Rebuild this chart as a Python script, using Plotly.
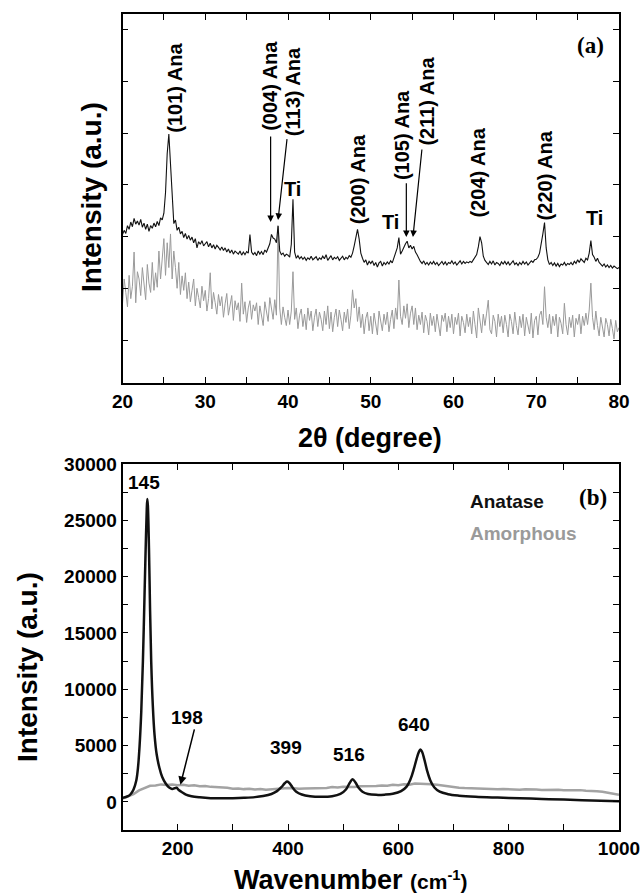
import numpy as np
import plotly.graph_objects as go

# ---------------- (a) XRD data ----------------
two_theta = np.round(np.arange(20.0, 80.0001, 0.2), 1)

xrd_anatase = [
    204, 212, 206, 221, 214, 228, 219, 235, 224, 230,
    222, 233, 218, 226, 214, 224, 210, 221, 216, 226,
    219, 229, 221, 236, 232, 245, 285, 360, 398, 335,
    262, 225, 232, 212, 218, 205, 210, 198, 206, 195,
    202, 193, 199, 188, 196, 178, 190, 185, 192, 182,
    186, 190, 180, 187, 178, 184, 176, 183, 179, 174,
    180, 173, 178, 170, 176, 168, 174, 166, 172, 168,
    166, 172, 164, 170, 165, 171, 168, 204, 170, 165,
    169, 163, 172, 166, 171, 165, 174, 170, 178, 186,
    204, 197, 195, 188, 221, 172, 165, 168, 162, 166,
    164, 160, 185, 272, 170, 158, 163, 157, 161, 156,
    160, 154, 159, 156, 162, 155, 158, 161, 154, 159,
    156, 162, 157, 165, 154, 158, 163, 155, 160, 157,
    161, 154, 158, 162, 155, 160, 157, 163, 160, 168,
    182, 200, 214, 195, 168, 158, 150, 155, 145, 152,
    148, 153, 144, 150, 141, 149, 152, 143, 150, 146,
    151, 147, 153, 149, 158, 165, 178, 198, 166, 172,
    180, 186, 191, 178, 183, 176, 181, 170, 165, 157,
    152, 148, 153, 146, 150, 145, 151, 147, 152, 146,
    150, 144, 149, 152, 146, 151, 145, 150, 148, 153,
    147, 151, 145, 150, 153, 147, 152, 148, 151, 149,
    152, 150, 155, 158, 165, 180, 200, 188, 162, 154,
    150, 146, 152, 147, 153, 145, 150, 148, 144, 151,
    147, 152, 146, 151, 145, 150, 153, 146, 149, 144,
    150, 146, 152, 147, 151, 145, 149, 153, 150, 155,
    156, 160, 168, 185, 205, 227, 178, 155, 146, 150,
    144, 149, 143, 148, 142, 147, 145, 150, 144, 148,
    146, 150, 145, 152, 148, 155, 150, 157, 153, 150,
    158, 155, 168, 192, 165, 160, 152, 158, 150, 146,
    143, 147, 141, 145, 140, 144, 139, 143, 141, 138,
    140,
]

xrd_amorphous = [
    70, 118, 92, 64, 125, 80, 104, 170, 72, 132,
    118, 86, 140, 100, 78, 146, 110, 92, 150, 96,
    130, 102, 172, 118, 150, 196, 125, 188, 140, 205,
    118, 172, 140, 100, 150, 88, 124, 96, 130, 80,
    112, 74, 96, 118, 66, 100, 82, 62, 104, 76,
    96, 56, 80, 130, 60, 92, 72, 50, 88, 66,
    84, 44, 70, 90, 48, 64, 86, 38, 76, 58,
    72, 36, 110, 50, 74, 34, 62, 76, 40, 68,
    56, 72, 30, 66, 48, 28, 74, 52, 36, 82,
    60, 40, 78, 48, 220, 62, 30, 64, 44, 28,
    58, 30, 56, 132, 40, 62, 22, 48, 60, 26,
    50, 20, 62, 38, 56, 18, 44, 60, 26, 54,
    40, 18, 56, 30, 66, 22, 54, 16, 44, 60,
    26, 58, 40, 18, 54, 34, 60, 22, 48, 97,
    62, 80, 36, 64, 24, 50, 12, 42, 54, 18,
    46, 12, 52, 30, 10, 56, 38, 18, 50, 30,
    54, 16, 40, 58, 22, 62, 40, 116, 46, 30,
    66, 42, 70, 24, 52, 66, 30, 62, 20, 48,
    30, 54, 14, 48, 36, 10, 52, 28, 46, 16,
    50, 30, 8, 48, 36, 52, 16, 46, 24, 50,
    12, 44, 30, 52, 8, 46, 34, 14, 50, 26,
    44, 12, 56, 30, 4, 62, 38, 14, 50, 28,
    52, 77, 20, 12, 48, 36, 6, 50, 26, 46,
    14, 48, 30, 6, 50, 36, 12, 54, 28, 10,
    46, 24, 50, 8, 44, 30, 12, 52, 4, 38,
    46, 10, 48, 56, 30, 103, 44, 24, 50, 12,
    46, 28, 50, 6, 44, 32, 12, 71, 30, 10,
    44, 24, 48, 6, 42, 30, 50, 12, 46, 28,
    52, 30, 58, 110, 44, 20, 56, 28, 8, 44,
    26, 6, 42, 30, 8, 40, 22, 2, 38, 16,
    24,
]

xrd_tick_vals = [0, 100, 200, 300, 400, 500, 600]

# peak labels: text, x (deg), y bottom of rotated label
xrd_labels = ["(101) Ana", "(004) Ana", "(113) Ana", "(200) Ana",
              "(105) Ana", "(211) Ana", "(204) Ana", "(220) Ana"]
xrd_label_x = [26.3, 37.8, 40.6, 48.4, 53.7, 56.8, 62.9, 71.1]
xrd_label_y = [396, 400, 391, 219, 306, 371, 232, 228]
ti_label_x = [40.6, 52.4, 77.0]
ti_label_y = [292, 228, 236]
# arrows: tail (ax, ay) -> head (x, y)
xrd_arrow_ax = [37.9, 39.9, 54.3, 56.2]
xrd_arrow_ay = [396, 391, 306, 371]
xrd_arrow_x = [37.9, 38.8, 54.3, 55.1]
xrd_arrow_y = [228, 232, 199, 199]

# ---------------- (b) Raman data ----------------
raman_x = [100, 110, 115, 120, 125, 128, 131, 134, 137, 140, 142, 144, 145, 146,
           148, 150, 152, 155, 158, 162, 167, 172, 178, 184, 190, 194, 198, 202,
           208, 215, 225, 240, 260, 280, 300, 320, 340, 355, 370, 380, 388, 394,
           398, 402, 408, 415, 425, 440, 460, 480, 495, 505, 512, 517, 522, 528,
           535, 545, 560, 575, 590, 605, 615, 622, 628, 633, 637, 640, 643, 647,
           652, 658, 665, 675, 690, 710, 740, 780, 820, 860, 900, 950, 1000]
raman_anatase = [350, 500, 700, 1100, 1900, 3000, 5000, 8000, 12500, 18500, 22500,
                 26000, 26900, 26300, 22500, 17000, 12500, 8500, 6000, 4200, 3000,
                 2200, 1650, 1300, 1150, 1200, 1250, 1050, 850, 650, 500, 400, 330,
                 320, 330, 360, 420, 520, 700, 950, 1300, 1650, 1800, 1700, 1300,
                 900, 650, 500, 450, 500, 700, 1100, 1700, 2000, 1750, 1250, 900,
                 700, 620, 640, 720, 950, 1350, 2000, 2900, 3800, 4400, 4650, 4450,
                 3800, 2800, 1900, 1300, 900, 680, 550, 450, 380, 320, 260, 200,
                 120, 50]

raman_amorph_x = list(range(100, 1001, 10))
raman_amorphous = [
    300, 470, 690, 1010, 1230, 1420, 1460, 1550, 1490, 1540,
    1470, 1520, 1440, 1480, 1390, 1400, 1330, 1310, 1240, 1250,
    1170, 1190, 1130, 1170, 1090, 1140, 1070, 1120, 1140, 1210,
    1230, 1210, 1160, 1180, 1200, 1160, 1230, 1240, 1310, 1270,
    1340, 1330, 1310, 1390, 1380, 1400, 1410, 1460, 1420, 1510,
    1470, 1560, 1530, 1620, 1600, 1640, 1570, 1520, 1440, 1380,
    1330, 1260, 1220, 1200, 1170, 1180, 1150, 1160, 1120, 1140,
    1110, 1120, 1080, 1110, 1070, 1090, 1060, 1080, 1050, 1070,
    1040, 1060, 1020, 1040, 990, 1000, 950, 900, 820, 720,
    620,
]

raman_peaks = ["145", "198", "399", "516", "640"]
raman_peak_x = [139, 217, 396, 510, 629]
raman_peak_y = [28330, 7460, 4800, 4170, 6840]

FONT = "Liberation Sans, Arial, Helvetica, sans-serif"
SERIF = "Liberation Serif, Times New Roman, serif"

fig = go.Figure()
fig.add_trace(go.Scatter(x=two_theta, y=xrd_amorphous, mode="lines",
                         line=dict(color="#9a9a9a", width=1), xaxis="x", yaxis="y",
                         showlegend=False))
fig.add_trace(go.Scatter(x=two_theta, y=xrd_anatase, mode="lines",
                         line=dict(color="#111111", width=1.1), xaxis="x", yaxis="y",
                         showlegend=False))
fig.add_trace(go.Scatter(x=raman_amorph_x, y=raman_amorphous, mode="lines",
                         line=dict(color="#a3a3a3", width=2.5), xaxis="x2", yaxis="y2",
                         showlegend=False))
fig.add_trace(go.Scatter(x=raman_x, y=raman_anatase, mode="lines", line_shape="spline",
                         line=dict(color="#111111", width=2.5), xaxis="x2", yaxis="y2",
                         showlegend=False))

XD = [122.5 / 643, 619 / 643]
axis_common = dict(showline=True, linewidth=1.5, linecolor="black", mirror="allticks",
                   ticks="inside", ticklen=6, tickwidth=1.3, tickcolor="black",
                   showgrid=False, zeroline=False, automargin=False,
                   tickfont=dict(family=FONT, size=19, color="black", weight="bold"))

fig.update_layout(
    width=643, height=895, autosize=False,
    margin=dict(l=0, r=0, t=0, b=0, pad=0, autoexpand=False),
    paper_bgcolor="white", plot_bgcolor="white",
    xaxis=dict(domain=XD, range=[20, 80], tickvals=[20, 30, 40, 50, 60, 70, 80],
               minor=dict(dtick=5, tick0=20, ticks="inside", ticklen=6, tickwidth=1.3,
                          tickcolor="black"),
               anchor="y", **axis_common),
    yaxis=dict(domain=[1 - 383 / 895, 1 - 14 / 895], range=[-83, 630],
               tickvals=xrd_tick_vals, showticklabels=False, anchor="x", **axis_common),
    xaxis2=dict(domain=XD, range=[100, 1000], tick0=0, dtick=200,
                minor=dict(dtick=100, tick0=0, ticks="inside", ticklen=6, tickwidth=1.3,
                           tickcolor="black"),
                anchor="y2", **axis_common),
    yaxis2=dict(domain=[1 - 830 / 895, 1 - 464 / 895], range=[-2500, 30000],
                tick0=0, dtick=5000, tickformat="d",
                minor=dict(dtick=2500, tick0=0, ticks="inside", ticklen=6, tickwidth=1.3,
                           tickcolor="black"),
                anchor="x2", **axis_common),
)

ann = []
for t, x, y in zip(xrd_labels, xrd_label_x, xrd_label_y):
    ann.append(dict(text="<b>%s</b>" % t, x=x, y=y, xref="x", yref="y", textangle=-90,
                    xanchor="center", yanchor="bottom", showarrow=False,
                    font=dict(family=FONT, size=20, color="black")))
for x, y in zip(ti_label_x, ti_label_y):
    ann.append(dict(text="<b>Ti</b>", x=x, y=y, xref="x", yref="y", showarrow=False,
                    font=dict(family=FONT, size=20, color="black")))
for ax, ay, x, y in zip(xrd_arrow_ax, xrd_arrow_ay, xrd_arrow_x, xrd_arrow_y):
    ann.append(dict(text="", x=x, y=y, ax=ax, ay=ay, xref="x", yref="y", axref="x",
                    ayref="y", showarrow=True, arrowhead=2, arrowsize=1.1, arrowwidth=1.2,
                    arrowcolor="black"))
ann.append(dict(text="<b>(a)</b>", x=76.5, y=569, xref="x", yref="y", showarrow=False,
                font=dict(family=SERIF, size=23, color="black")))

for t, x, y in zip(raman_peaks, raman_peak_x, raman_peak_y):
    ann.append(dict(text="<b>%s</b>" % t, x=x, y=y, xref="x2", yref="y2", showarrow=False,
                    font=dict(family=FONT, size=19, color="black")))
ann.append(dict(text="", x=205, y=1510, ax=231, ay=6570, xref="x2", yref="y2", axref="x2",
                ayref="y2", showarrow=True, arrowhead=2, arrowsize=1.1, arrowwidth=1.5,
                arrowcolor="black"))
ann.append(dict(text="<b>Anatase</b>", x=727, y=26650, xref="x2", yref="y2",
                xanchor="left", showarrow=False,
                font=dict(family=FONT, size=19, color="#111111")))
ann.append(dict(text="<b>Amorphous</b>", x=727, y=23800, xref="x2", yref="y2",
                xanchor="left", showarrow=False,
                font=dict(family=FONT, size=19, color="#9a9a9a")))
ann.append(dict(text="<b>(b)</b>", x=952, y=27000, xref="x2", yref="y2", showarrow=False,
                font=dict(family=SERIF, size=23, color="black")))

# axis titles
ann.append(dict(text="<b>2θ (degree)</b>", x=370 / 643, y=1 - 438 / 895, xref="paper",
                yref="paper", showarrow=False, xanchor="center", yanchor="middle",
                font=dict(family=FONT, size=27, color="black")))
ann.append(dict(text="<b>Wavenumber <span style='font-size:21px'>(cm<sup>-1</sup>)</span></b>",
                x=350 / 643, y=1 - 880 / 895, xref="paper", yref="paper", showarrow=False,
                xanchor="center", yanchor="middle",
                font=dict(family=FONT, size=27, color="black")))
ann.append(dict(text="<b>Intensity (a.u.)</b>", x=91 / 643, y=1 - 197 / 895, xref="paper",
                yref="paper", showarrow=False, textangle=-90, xanchor="center",
                yanchor="middle", font=dict(family=FONT, size=28, color="black")))
ann.append(dict(text="<b>Intensity (a.u.)</b>", x=27 / 643, y=1 - 667 / 895, xref="paper",
                yref="paper", showarrow=False, textangle=-90, xanchor="center",
                yanchor="middle", font=dict(family=FONT, size=28, color="black")))

fig.update_layout(annotations=ann)
fig.write_html(
    "out.html",
    config={"responsive": False, "displayModeBar": False},
    post_script="document.body.style.margin='0px';document.body.style.overflow='hidden';",
)
